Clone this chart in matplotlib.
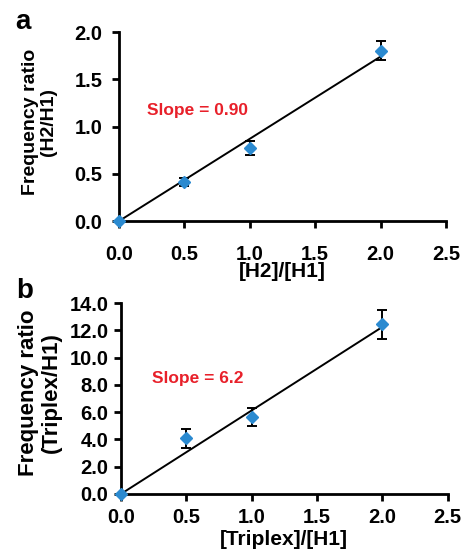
import matplotlib
matplotlib.use('Agg')
import numpy as np
import matplotlib.pyplot as plt

plt.rcParams['font.family'] = ['Liberation Sans', 'DejaVu Sans']
plt.rcParams['font.weight'] = 'bold'

# panel a: H2/H1
xa = [0.0, 0.5, 1.0, 2.0]
ya = [0.0, 0.41, 0.77, 1.80]
ea = [0.0, 0.04, 0.075, 0.10]
fit_xa = [0.0, 2.0]
fit_ya = [0.0, 1.74]

# panel b: Triplex/H1
xb = [0.0, 0.5, 1.0, 2.0]
yb = [0.0, 4.1, 5.65, 12.45]
eb = [0.0, 0.7, 0.65, 1.05]
fit_xb = [0.0, 2.0]
fit_yb = [0.0, 12.25]

xticks = [0.0, 0.5, 1.0, 1.5, 2.0, 2.5]
yticks_a = [0.0, 0.5, 1.0, 1.5, 2.0]
yticks_b = [0.0, 2.0, 4.0, 6.0, 8.0, 10.0, 12.0, 14.0]

blue = '#2b8ad0'

fig = plt.figure(figsize=(4.65, 5.49), dpi=100)
axa = fig.add_axes([0.256, 0.5974, 0.703, 0.3443])
axb = fig.add_axes([0.260, 0.1002, 0.703, 0.3478])


def style(ax, yticks, xpad, ypad):
    ax.spines['top'].set_visible(False)
    ax.spines['right'].set_visible(False)
    for s in ('left', 'bottom'):
        ax.spines[s].set_linewidth(2.0)
    ax.set_xlim(xticks[0], xticks[-1])
    ax.set_xticks(xticks)
    ax.set_xticklabels(['%.1f' % v for v in xticks])
    ax.set_ylim(yticks[0], yticks[-1])
    ax.set_yticks(yticks)
    ax.set_yticklabels(['%.1f' % v for v in yticks])
    ax.tick_params(width=2.0, length=5, labelsize=14.5)
    ax.tick_params(axis='x', pad=xpad)
    ax.tick_params(axis='y', pad=ypad)
    for lab in ax.get_xticklabels() + ax.get_yticklabels():
        lab.set_fontweight('bold')


for ax, x, y, e, fx, fy in [(axa, xa, ya, ea, fit_xa, fit_ya),
                             (axb, xb, yb, eb, fit_xb, fit_yb)]:
    ax.plot(fx, fy, color='black', lw=1.4, zorder=2)
    ax.errorbar(x, y, yerr=e, fmt='D', color=blue, ms=6, ecolor='black',
                elinewidth=1.4, capsize=3.5, capthick=1.4, zorder=3, clip_on=False)

style(axa, yticks_a, 12, 7)
style(axb, yticks_b, 5, 4)

axa.text(0.214, 1.17, 'Slope = 0.90', color='#e8202a', fontsize=12.5, fontweight='bold', va='center')
axb.text(0.237, 8.5, 'Slope = 6.2', color='#e8202a', fontsize=12.5, fontweight='bold', va='center')

axa.set_xlabel('[H2]/[H1]', fontsize=15, fontweight='bold')
axa.xaxis.set_label_coords(0.5, -0.215)
axa.set_ylabel('Frequency ratio\n(H2/H1)', fontsize=14, fontweight='bold', linespacing=1.1)
axa.yaxis.set_label_coords(-0.19, 0.525)

axb.set_xlabel('[Triplex]/[H1]', fontsize=15, fontweight='bold')
axb.xaxis.set_label_coords(0.5, -0.19)
axb.set_ylabel('Frequency ratio\n(Triplex/H1)', fontsize=16, fontweight='bold', linespacing=1.15)
axb.yaxis.set_label_coords(-0.18, 0.53)

fig.text(0.05, 0.96, 'a', fontsize=20, fontweight='bold', va='center', ha='center')
fig.text(0.052, 0.47, 'b', fontsize=20, fontweight='bold', va='center', ha='center')

fig.savefig('out.png', dpi=100)
